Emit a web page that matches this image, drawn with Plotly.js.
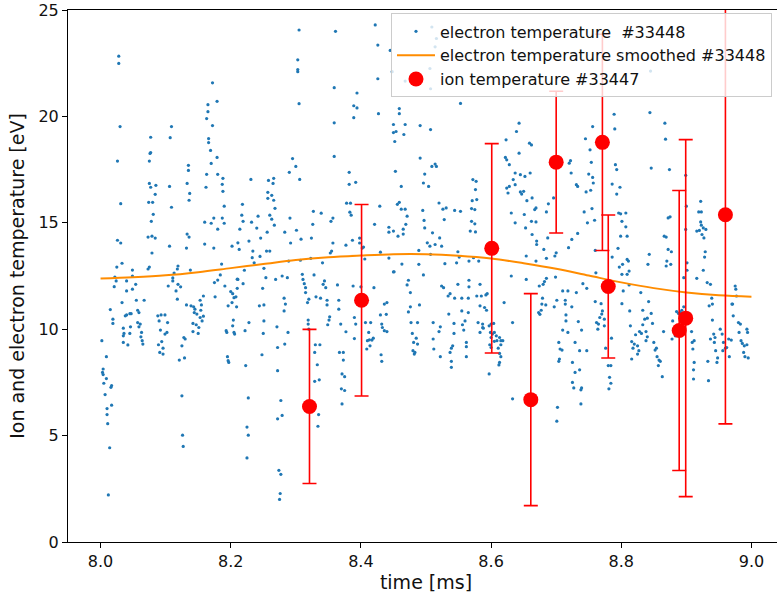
<!DOCTYPE html>
<html><head><meta charset="utf-8">
<script src="https://cdn.plot.ly/plotly-3.0.1.min.js"></script>
<style>html,body{margin:0;padding:0;overflow:hidden;background:#fff;} #chart{width:800px;height:596px;}</style>
</head><body><div id="chart"></div>
<script>
// electron temperature samples #33448 : [time ms, temperature eV]
const electronSamples = [
[8.028,22.83],[8.028,22.49],[8.030,19.52],[8.026,17.90],[8.031,15.90],[8.026,14.18],[8.031,14.05],[8.025,12.92],[8.033,13.10],[8.022,12.45],
[8.077,19.02],[8.076,18.26],[8.077,18.30],[8.075,17.90],[8.075,16.85],[8.077,16.67],[8.085,16.76],[8.074,15.96],[8.080,15.96],[8.084,16.34],[8.081,15.40],[8.078,15.07],[8.073,14.33],[8.079,14.37],[8.084,14.28],[8.079,13.58],[8.073,12.83],[8.075,12.92],[8.049,12.78],[8.049,12.50],
[8.109,19.52],[8.107,19.00],[8.106,16.71],[8.109,15.73],[8.106,13.90],[8.119,12.97],[8.118,12.83],[8.113,12.64],[8.111,12.41],
[8.135,17.70],[8.135,17.46],[8.133,16.85],[8.137,16.38],[8.136,16.06],[8.133,14.47],[8.136,14.33],[8.132,13.81],[8.138,12.78],
[8.172,21.58],[8.179,20.71],[8.165,20.55],[8.165,20.22],[8.163,19.90],[8.172,19.57],[8.166,18.96],[8.166,18.77],[8.169,18.40],[8.179,18.07],[8.170,17.79],[8.163,17.28],[8.162,16.67],[8.180,17.28],[8.188,17.09],[8.187,16.81],[8.188,16.48],[8.190,15.78],[8.174,15.22],[8.170,14.98],[8.160,15.03],[8.180,14.70],[8.187,15.22],[8.190,14.98],[8.160,14.00],[8.174,13.81],[8.186,13.06],[8.184,12.55],[8.180,12.31],
[8.305,24.06],[8.361,24.00],[8.422,24.30],[8.426,23.35],[8.303,22.66],[8.303,22.20],[8.303,22.10],[8.305,20.60],[8.359,21.35],[8.359,19.70],[8.394,21.10],[8.389,20.50],[8.394,20.40],[8.389,19.94],[8.426,21.77],[8.427,20.13],
[8.459,20.37],[8.459,20.13],[8.450,19.62],[8.454,19.29],[8.450,19.24],[8.468,19.62],[8.466,19.15],[8.452,18.82],
[8.359,18.12],[8.295,18.02],[8.300,17.65],[8.290,17.37],[8.306,17.04],[8.231,17.04],[8.258,16.99],[8.266,17.09],[8.265,16.85],
[8.257,16.43],[8.263,16.29],[8.257,16.15],[8.266,16.06],[8.268,15.68],
[8.218,15.87],[8.217,15.36],[8.219,15.07],[8.214,14.70],[8.242,15.31],[8.240,14.75],[8.232,15.03],
[8.260,15.36],[8.263,15.17],[8.246,14.28],[8.256,14.56],[8.267,14.89],
[8.291,15.22],[8.283,14.56],[8.301,14.65],[8.292,14.05],
[8.308,14.23],[8.324,14.28],[8.327,15.54],[8.339,15.45],[8.326,14.93],
[8.354,15.07],[8.357,15.22],[8.357,14.05],[8.353,13.58],[8.355,13.67],
[8.377,13.95],[8.387,14.18],
[8.378,15.92],[8.384,15.92],[8.383,15.50],[8.385,15.36],
[8.382,17.37],[8.382,16.81],[8.392,16.90],
[8.421,14.93],[8.429,15.78],[8.398,14.28],[8.398,14.05],[8.402,13.81],[8.404,13.86],[8.406,13.30],[8.430,13.62],
[8.443,14.79],[8.443,14.56],[8.450,14.61],[8.457,14.37],[8.465,14.70],[8.465,14.47],[8.469,14.93],[8.471,15.31],[8.462,15.64],[8.468,15.64],[8.456,15.87],[8.459,15.96],[8.462,16.71],[8.453,17.42],
[8.443,13.34],[8.463,13.06],[8.450,12.69],
[8.221,12.77],[8.251,12.86],[8.211,12.34],[8.254,12.42],[8.269,12.34],[8.279,12.50],[8.287,12.42],[8.310,12.58],[8.311,12.34],[8.328,12.55],[8.341,13.12],[8.323,13.33],[8.307,13.24],[8.289,13.20],[8.234,13.67],[8.233,13.36],[8.245,13.42],[8.236,13.12],[8.255,13.67],[8.260,13.67],[8.211,14.06],[8.213,13.75],[8.228,14.14],[8.202,13.90],
[8.553,20.61],[8.491,19.57],[8.507,19.38],
[8.491,18.04],[8.509,17.65],[8.514,17.76],[8.516,17.65],[8.498,17.29],[8.496,16.87],[8.504,16.71],
[8.520,15.93],[8.495,15.58],[8.497,15.11],[8.498,14.76],[8.510,14.53],[8.526,15.64],[8.528,15.15],[8.531,15.70],[8.544,15.58],[8.553,15.54],
[8.502,14.06],[8.506,13.90],[8.514,13.98],[8.521,14.29],[8.524,13.90],[8.489,13.70],[8.507,13.52],
[8.489,13.05],[8.529,13.08],[8.547,13.12],[8.549,13.64],[8.573,13.36],
[8.572,17.03],[8.577,16.95],[8.571,16.04],[8.578,16.09],[8.570,15.67],[8.575,15.62],[8.570,15.07],[8.575,14.95],[8.568,14.61],[8.576,14.57],[8.576,16.56],
[8.551,13.39],[8.566,13.20],[8.581,13.20],
[8.623,18.90],[8.639,19.29],[8.643,19.68],[8.659,18.74],[8.662,18.66],[8.643,18.27],[8.622,18.07],[8.624,17.96],[8.628,17.73],[8.637,17.34],[8.645,17.26],[8.652,17.18],[8.660,17.34],[8.634,17.03],[8.628,16.71],[8.624,16.63],[8.626,16.40],[8.637,16.79],[8.645,16.45],[8.647,16.35],[8.650,16.48],[8.655,16.04],[8.663,16.17],[8.669,15.70],[8.667,15.62],[8.631,15.46],[8.651,15.39],[8.662,15.07],[8.669,15.04],[8.637,15.00],[8.653,14.76],[8.663,14.45],[8.670,14.14],[8.670,13.98],[8.681,13.75],[8.687,14.29],[8.685,15.51],[8.688,15.89],[8.696,16.17],[8.720,17.80],[8.722,17.92],[8.723,17.34],[8.731,16.79],[8.724,14.22],[8.719,13.83],[8.654,13.44],[8.669,13.20],[8.685,13.33],[8.698,13.44],[8.700,13.59],
[8.509,24.20],[8.516,23.66],[8.514,23.27],[8.506,22.25],[8.507,21.30],[8.445,23.10],[8.448,22.10],[8.468,21.66],
[8.845,22.13],[8.789,20.10],[8.790,19.41],
[8.756,19.52],[8.745,18.95],[8.752,18.43],[8.754,17.84],[8.750,17.29],[8.756,17.13],[8.757,16.87],[8.746,16.45],[8.753,16.53],[8.733,16.71],
[8.743,15.51],[8.755,15.67],[8.748,15.00],[8.759,15.12],[8.733,14.50],[8.760,13.70],
[8.791,17.73],[8.793,17.50],[8.786,16.82],[8.798,16.67],[8.793,16.35],
[8.796,15.46],[8.799,15.42],[8.807,15.46],[8.801,15.07],[8.807,14.81],[8.799,14.37],[8.809,14.37],[8.795,13.80],[8.786,13.39],[8.802,13.05],[8.797,12.92],[8.809,13.28],[8.811,13.20],
[8.844,20.18],[8.867,19.68],[8.868,18.93],[8.846,17.57],[8.874,17.50],
[8.872,15.23],[8.875,15.28],[8.866,14.37],[8.869,14.33],[8.872,13.75],[8.877,13.64],[8.843,13.52],[8.870,13.20],[8.869,12.97],[8.876,13.05],[8.841,13.05],
[8.899,17.23],[8.900,15.78],[8.899,14.69],[8.901,13.12],[8.901,12.77],[8.896,12.42],
[8.922,16.01],[8.919,15.51],[8.923,15.51],[8.922,15.04],[8.923,14.89],[8.916,14.61],[8.920,14.64],[8.926,14.76],[8.930,14.69],[8.924,14.45],[8.927,14.29],[8.929,13.64],[8.928,13.39],[8.926,12.77],[8.916,12.39],
[8.002,9.46],[8.009,8.71],[8.004,8.13],[8.003,7.97],[8.004,7.87],[8.009,7.68],[8.005,7.46],[8.007,6.93],[8.017,7.35],[8.016,7.27],[8.010,6.27],[8.010,5.99],[8.011,5.56],[8.017,6.43],[8.014,4.43],[8.012,2.21],
[8.015,10.92],[8.019,10.47],[8.019,10.27],[8.021,12.00],[8.024,12.27],
[8.033,11.25],[8.040,11.80],[8.040,12.27],[8.054,12.11],[8.049,11.88],[8.055,11.36],[8.067,11.36],[8.057,10.89],[8.059,10.78],[8.040,10.67],[8.045,10.73],[8.047,10.73],[8.038,10.63],
[8.035,10.05],[8.036,9.80],[8.035,9.69],[8.035,9.38],[8.042,9.26],[8.045,9.80],[8.046,10.11],[8.057,10.31],[8.059,10.11],[8.061,10.24],[8.063,9.85],[8.062,9.64],[8.064,9.46],[8.065,9.30],
[8.088,10.63],[8.093,10.67],[8.099,10.67],[8.090,10.39],[8.103,10.31],[8.092,9.96],[8.102,9.85],[8.099,9.77],[8.094,9.42],[8.089,9.27],[8.096,9.11],[8.091,8.91],[8.096,8.83],
[8.104,12.03],[8.111,12.27],[8.116,11.80],[8.119,12.11],[8.123,11.99],[8.118,11.41],
[8.121,8.55],[8.125,9.22],[8.128,9.61],[8.130,9.54],[8.129,8.65],[8.125,6.87],[8.126,5.02],[8.127,4.49],
[8.132,11.14],[8.139,11.10],[8.143,11.05],[8.145,10.94],[8.144,10.78],[8.148,10.71],[8.142,10.27],[8.147,10.21],[8.151,10.08],[8.142,9.89],[8.150,9.80],[8.153,10.55],[8.156,10.39],[8.158,10.61],[8.154,10.89],[8.155,11.14],[8.153,11.36],[8.158,11.56],
[8.175,12.19],[8.176,11.52],[8.191,12.03],[8.200,11.77],[8.203,11.67],[8.205,11.48],[8.208,11.52],[8.210,11.92],[8.210,12.35],[8.196,11.10],[8.202,11.25],[8.209,11.05],[8.204,10.43],[8.203,10.16],[8.205,9.85],[8.193,9.93],[8.194,9.85],[8.206,9.77],[8.195,8.71],[8.196,8.52],[8.197,8.44],
[8.219,12.14],[8.222,9.93],[8.228,10.31],
[8.223,8.29],[8.227,6.77],[8.225,5.40],[8.227,5.02],[8.225,3.95],
[8.249,11.92],[8.244,11.10],[8.251,11.14],[8.251,10.39],[8.250,9.80],[8.248,8.80],
[8.282,11.46],[8.284,11.18],[8.282,10.86],[8.271,10.11],[8.288,9.85],[8.272,9.14],[8.283,9.30],[8.272,8.05],[8.277,6.65],[8.272,5.79],[8.279,5.95],[8.274,3.37],[8.277,3.18],[8.276,2.28],[8.275,2.00],
[8.313,12.14],[8.315,11.95],[8.315,11.72],[8.318,11.25],[8.320,11.41],[8.319,10.43],[8.319,10.24],[8.320,10.00],[8.330,9.27],[8.337,9.27],[8.329,8.91],[8.333,8.33],[8.329,7.55],[8.336,7.62],[8.335,5.99],[8.334,5.44],
[8.331,11.52],[8.338,11.46],[8.342,12.11],[8.346,11.95],[8.344,12.27],[8.348,11.36],[8.348,11.14],[8.352,10.58],[8.351,10.43],[8.349,10.21],
[8.364,12.08],[8.366,11.36],[8.366,10.94],[8.369,10.24],[8.367,8.91],[8.373,8.91],[8.373,8.55],[8.371,7.90],[8.375,7.77],[8.370,7.20],[8.375,7.12],[8.371,6.49],[8.377,9.88],
[8.388,12.03],[8.400,11.99],[8.390,10.55],[8.392,10.24],[8.390,9.56],[8.407,10.31],[8.415,10.31],[8.420,11.95],[8.412,9.85],[8.410,9.46],[8.413,9.50],[8.417,9.49],[8.419,9.58],[8.414,9.22],[8.409,9.07],[8.432,10.24],[8.430,10.67],[8.439,10.70],[8.436,11.18],[8.440,11.25],[8.433,10.08],[8.436,9.93],[8.440,9.89],[8.431,8.80],[8.432,8.49],[8.451,12.70],
[8.473,12.30],[8.471,12.08],[8.476,11.72],[8.496,12.55],[8.476,11.05],[8.473,10.81],[8.490,11.14],[8.477,10.31],[8.487,10.31],[8.479,9.80],[8.485,9.58],[8.481,9.38],[8.487,9.30],[8.480,8.99],[8.482,8.83],[8.483,8.91],
[8.524,12.03],[8.527,11.95],[8.534,11.56],[8.537,11.67],[8.544,11.46],[8.549,12.11],[8.555,11.46],[8.566,12.30],[8.566,11.99],[8.565,11.46],[8.578,11.56],[8.585,11.56],[8.583,12.11],[8.592,11.61],[8.594,11.67],
[8.511,10.31],[8.522,10.11],[8.520,9.89],[8.535,10.71],[8.543,10.27],[8.556,10.21],[8.560,10.39],[8.558,9.96],[8.555,10.86],[8.565,10.78],[8.543,9.80],[8.511,9.54],[8.512,9.07],[8.541,9.22],[8.539,9.11],[8.537,8.91],[8.522,8.71],[8.539,8.49],[8.539,8.21],[8.562,9.38],[8.562,9.18],[8.562,8.71],[8.580,10.31],[8.587,10.24],[8.583,9.85],[8.588,10.05],[8.583,11.10],[8.590,11.02],[8.593,10.89],[8.620,11.25],[8.633,10.31],
[8.597,10.16],[8.600,10.24],[8.604,10.27],[8.599,9.85],[8.602,9.77],[8.605,9.85],[8.608,9.69],[8.600,9.61],[8.605,9.43],[8.609,9.46],[8.613,9.61],[8.615,9.46],[8.618,9.46],[8.598,9.27],[8.611,9.11],[8.613,8.86],[8.615,8.71],[8.613,8.44],[8.612,8.32],[8.597,7.90],[8.587,10.08],[8.600,9.14],[8.615,9.27],
[8.633,6.73],[8.631,12.50],[8.654,12.34],
[8.674,12.03],[8.673,10.78],[8.675,10.70],[8.677,10.89],[8.678,11.18],[8.684,11.14],[8.679,11.46],[8.680,12.11],[8.682,12.24],[8.685,12.39],[8.699,12.45],[8.701,11.36],[8.710,11.80],[8.718,11.80],[8.714,11.36],[8.714,11.18],[8.697,11.05],[8.715,10.67],[8.715,10.39],[8.710,9.96],[8.718,9.85],[8.704,9.38],[8.706,9.07],[8.709,9.02],[8.705,8.60],[8.704,8.49],[8.702,6.33],[8.701,5.68],
[8.741,12.14],[8.747,11.92],[8.731,11.72],[8.724,11.05],[8.734,10.36],[8.739,9.96],[8.729,9.38],[8.736,8.99],[8.747,8.99],[8.725,8.44],[8.729,7.97],[8.736,8.09],[8.725,7.50],[8.727,7.24],[8.738,7.15],[8.739,7.24],[8.738,6.49],
[8.761,12.65],[8.760,11.30],[8.769,11.20],[8.762,10.31],[8.767,10.55],[8.770,10.71],[8.774,10.47],[8.765,10.24],[8.764,10.00],[8.774,10.16],[8.771,10.86],[8.780,8.29],[8.784,8.29],[8.785,9.58],[8.782,7.74],[8.784,7.46],[8.781,7.20],[8.776,9.11],
[8.801,11.20],[8.803,11.80],[8.809,12.58],[8.812,12.08],[8.813,10.86],[8.814,10.16],[8.822,9.74],[8.816,9.42],[8.820,9.30],[8.818,9.11],[8.825,9.22],[8.827,8.99],[8.825,8.83],[8.816,8.60],[8.828,9.89],[8.831,9.80],[8.833,10.21],[8.833,10.89],[8.836,10.47],[8.840,10.52],[8.842,11.30],[8.846,10.74],[8.838,9.89],[8.840,9.64],[8.838,9.46],[8.848,10.27],[8.850,9.38],[8.854,9.11],[8.852,9.02],[8.855,8.71],[8.858,8.55],[8.860,8.49],[8.857,8.29],[8.863,7.77],[8.865,9.89],[8.830,11.72],[8.801,12.58],[8.812,12.73],
[8.878,9.54],[8.883,9.69],[8.879,10.39],[8.885,10.83],[8.888,10.74],[8.891,10.78],[8.893,10.89],[8.896,11.05],[8.909,9.38],[8.912,9.46],[8.910,9.07],[8.912,8.44],[8.911,8.09],[8.911,7.66],[8.908,9.89],
[8.932,12.19],[8.937,12.11],[8.939,11.46],[8.935,11.10],[8.940,11.18],[8.940,10.43],[8.937,9.54],[8.942,9.77],[8.944,9.61],[8.943,9.38],[8.945,8.99],[8.948,8.65],[8.947,8.44],[8.933,8.49],[8.934,7.58],[8.952,10.00],[8.955,9.77],[8.957,9.38],[8.960,9.11],[8.956,8.99],[8.962,9.14],[8.966,8.71],[8.965,9.54],[8.969,9.49],[8.972,10.63],[8.971,11.18],[8.970,11.18],[8.975,12.03],[8.976,11.88],[8.977,11.56],[8.980,10.31],[8.983,10.24],[8.981,9.85],[8.984,9.46],[8.986,9.33],[8.989,9.22],[8.988,8.91],[8.990,8.71],[8.993,10.00],[8.994,9.85],[8.993,9.27],[8.995,8.65]
];

// smoothed electron temperature #33448
const smoothTime = [8.00, 8.05, 8.10, 8.15, 8.20, 8.25, 8.30, 8.35, 8.40, 8.45, 8.50, 8.55, 8.60, 8.65, 8.70, 8.75, 8.80, 8.85, 8.90, 8.95, 9.00];
const smoothTemp = [12.38, 12.44, 12.53, 12.68, 12.87, 13.06, 13.25, 13.38, 13.46, 13.52, 13.52, 13.45, 13.32, 13.10, 12.84, 12.52, 12.20, 11.93, 11.73, 11.60, 11.53];

// ion temperature #33447 with error bars
const ionTime = [8.321, 8.401, 8.601, 8.661, 8.700, 8.771, 8.780, 8.889, 8.899, 8.960];
const ionTemp = [6.37, 11.36, 13.80, 6.69, 17.85, 18.78, 12.01, 9.94, 10.52, 15.38];
const ionErr  = [3.62, 4.50, 4.92, 4.98, 3.33, 5.08, 3.36, 6.58, 8.39, 9.83];

const seriesNames = ['electron temperature\u00a0 #33448', 'electron temperature smoothed #33448', 'ion temperature #33447'];
const xTitle = 'time [ms]';
const yTitle = 'Ion and electron temperature [eV]';

const FONT = '"DejaVu Sans", sans-serif';

const traces = [
  {
    type: 'scatter', mode: 'markers', name: seriesNames[0], legendgroup: 'a',
    x: electronSamples.map(p => p[0]), y: electronSamples.map(p => p[1]),
    marker: {color: '#1f77b4', size: 3.2, line: {width: 0}}
  },
  {
    type: 'scatter', mode: 'lines', name: seriesNames[1], legendgroup: 'b',
    x: smoothTime, y: smoothTemp, line: {color: '#ff8c00', width: 2, shape: 'spline'}
  },
  {
    type: 'scatter', mode: 'markers', name: seriesNames[2], legendgroup: 'c',
    x: ionTime, y: ionTemp,
    marker: {color: '#ff0000', size: 15, line: {width: 0}},
    error_y: {type: 'data', array: ionErr, visible: true, color: '#ff0000', thickness: 1.6, width: 7}
  }
];

const axisCommon = {
  showline: true, linecolor: '#000', linewidth: 1, mirror: true,
  ticks: 'outside', ticklen: 5, tickwidth: 1, tickcolor: '#000',
  showgrid: false, zeroline: false, automargin: false,
  tickfont: {family: FONT, size: 16, color: '#111'}
};

const layout = {
  width: 800, height: 596,
  margin: {l: 68, r: 16, t: 10, b: 54},
  paper_bgcolor: '#ffffff', plot_bgcolor: '#ffffff',
  font: {family: FONT, size: 16, color: '#111'},
  showlegend: true,
  xaxis: Object.assign({}, axisCommon, {
    range: [7.95, 9.05], tick0: 8.0, dtick: 0.2, tickformat: '.1f',
    title: {text: xTitle, font: {family: FONT, size: 19, color: '#111'}, standoff: 5}
  }),
  yaxis: Object.assign({}, axisCommon, {
    range: [0, 25], tick0: 0, dtick: 5,
    title: {text: yTitle, font: {family: FONT, size: 19, color: '#111'}, standoff: 8}
  }),
  legend: {
    x: 0.4511, y: 0.9935, xanchor: 'left', yanchor: 'top',
    bgcolor: 'rgba(255,255,255,0.8)', bordercolor: '#cccccc', borderwidth: 1,
    font: {family: FONT, size: 16, color: '#111'},
    traceorder: 'grouped', tracegroupgap: 0, itemwidth: 38
  }
};

Plotly.newPlot('chart', traces, layout, {displayModeBar: false, staticPlot: true});
</script>
</body></html>
